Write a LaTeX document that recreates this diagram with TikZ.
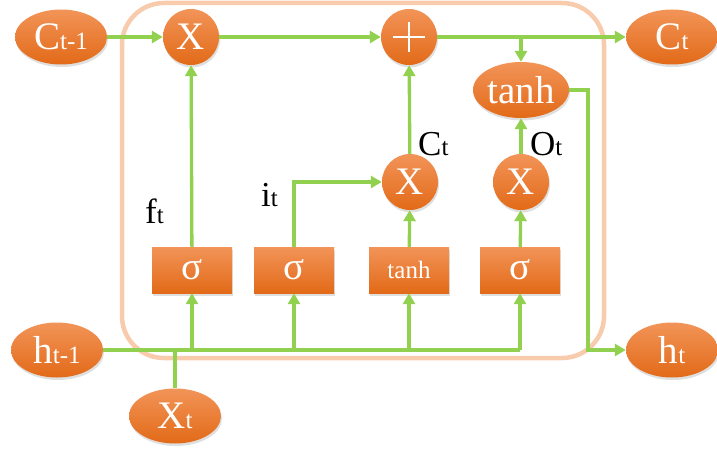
\documentclass[tikz,border=0pt]{standalone}
\usepackage{fontspec}
\setmainfont{Liberation Serif}
\usetikzlibrary{shapes.geometric,arrows.meta,shadows}

\definecolor{lgreen}{RGB}{146,208,80}
\definecolor{peach}{RGB}{248,203,173}
\definecolor{otop}{RGB}{242,148,88}
\definecolor{omid}{RGB}{240,126,44}
\definecolor{obot}{RGB}{226,106,24}

\newcommand\bigtxt{\fontsize{39}{39}\selectfont}
\newcommand\lbltxt{\fontsize{35}{35}\selectfont}
\newcommand\subtxt[1]{{\fontsize{25}{25}\selectfont #1}}

\tikzset{
  orange/.style={top color=otop, middle color=omid, bottom color=obot,
    text=white, inner sep=0pt,
    drop shadow={opacity=0.25, shadow xshift=1pt, shadow yshift=-2.5pt}},
  oval/.style={orange, ellipse, minimum width=92pt, minimum height=55pt, font=\bigtxt},
  circ/.style={orange, circle, minimum size=56pt, font=\bigtxt},
  gate/.style={orange, rectangle, minimum width=80pt, minimum height=46pt, font=\bigtxt},
  flow/.style={lgreen, line width=3.3pt},
  arr/.style={flow, -{Triangle[length=11pt,width=12pt]}},
  lbl/.style={anchor=base west, inner sep=0pt, font=\lbltxt},
}

\begin{document}
\begin{tikzpicture}[x=1pt, y=-1pt]
  \useasboundingbox (0,0) rectangle (717,452);

  % cell border
  \draw[peach, line width=4.5pt, rounded corners=42pt] (122,3) rectangle (604,358);

  % outer states and inputs
  \node[oval] (ctm1) at (61,37) {C\subtxt{t-1}};
  \node[oval] (ct)   at (672,37) {C\subtxt{t}};
  \node[oval] (htm1) at (57,350) {h\subtxt{t-1}};
  \node[oval] (ht)   at (672,350) {h\subtxt{t}};
  \node[oval] (xt)   at (175,416) {X\subtxt{t}};

  % pointwise operations
  \node[circ] (x1)   at (191,37) {X};
  \node[circ] (plus) at (409,37) {};
  \draw[white, line width=2pt] (plus.center) +(-16,0) -- +(16,0)
                               (plus.center) +(0,-15) -- +(0,15);
  \node[circ] (x2)   at (410,182) {X};
  \node[circ] (x3)   at (521,182) {X};
  \node[oval, minimum width=96pt, minimum height=56pt, font=\fontsize{39}{39}\selectfont]
        (tanhE) at (521,90) {tanh};

  % gate layers
  \node[gate] (g1) at (192,270) {σ};
  \node[gate] (g2) at (294,270) {σ};
  \node[gate, font=\fontsize{25}{25}\selectfont] (g3) at (409,270) {tanh};
  \node[gate] (g4) at (520,270) {σ};

  % cell state path
  \draw[arr] (ctm1) -- (x1);
  \draw[arr] (x1) -- (plus);
  \draw[arr] (plus) -- (ct);
  \coordinate (split) at (plus -| tanhE);
  \draw[arr] (split) -- (tanhE.north);

  % hidden output path
  \coordinate (bend) at (588,90);
  \draw[arr] (tanhE.east) -- (bend) |- (ht.west);
  \draw[arr] (x3) -- (tanhE);
  \draw[arr] (g4) -- (x3);

  % input and candidate path
  \draw[arr] (g3) -- (x2);
  \draw[arr] (x2) -- (plus);
  \draw[arr] (g2.north) |- (x2.west);
  \draw[arr] (g1) -- (x1);

  % shared input bus
  \coordinate (busend) at (g4 |- htm1);
  \draw[flow] (htm1.east) -- (busend);
  \draw[flow] (xt.north) -- (xt |- htm1);
  \draw[arr] (g1 |- htm1) -- (g1.south);
  \draw[arr] (g2 |- htm1) -- (g2.south);
  \draw[arr] (g3 |- htm1) -- (g3.south);
  \draw[arr] (busend) -- (g4.south);

  % gate labels
  \node[lbl] (lf) at (145,223) {f\subtxt{t}};
  \node[lbl] (li) at (261,206) {i\subtxt{t}};
  \node[lbl] (lc) at (418,155) {C\subtxt{t}};
  \node[lbl] (lo) at (530,155) {O\subtxt{t}};
\end{tikzpicture}
\end{document}
